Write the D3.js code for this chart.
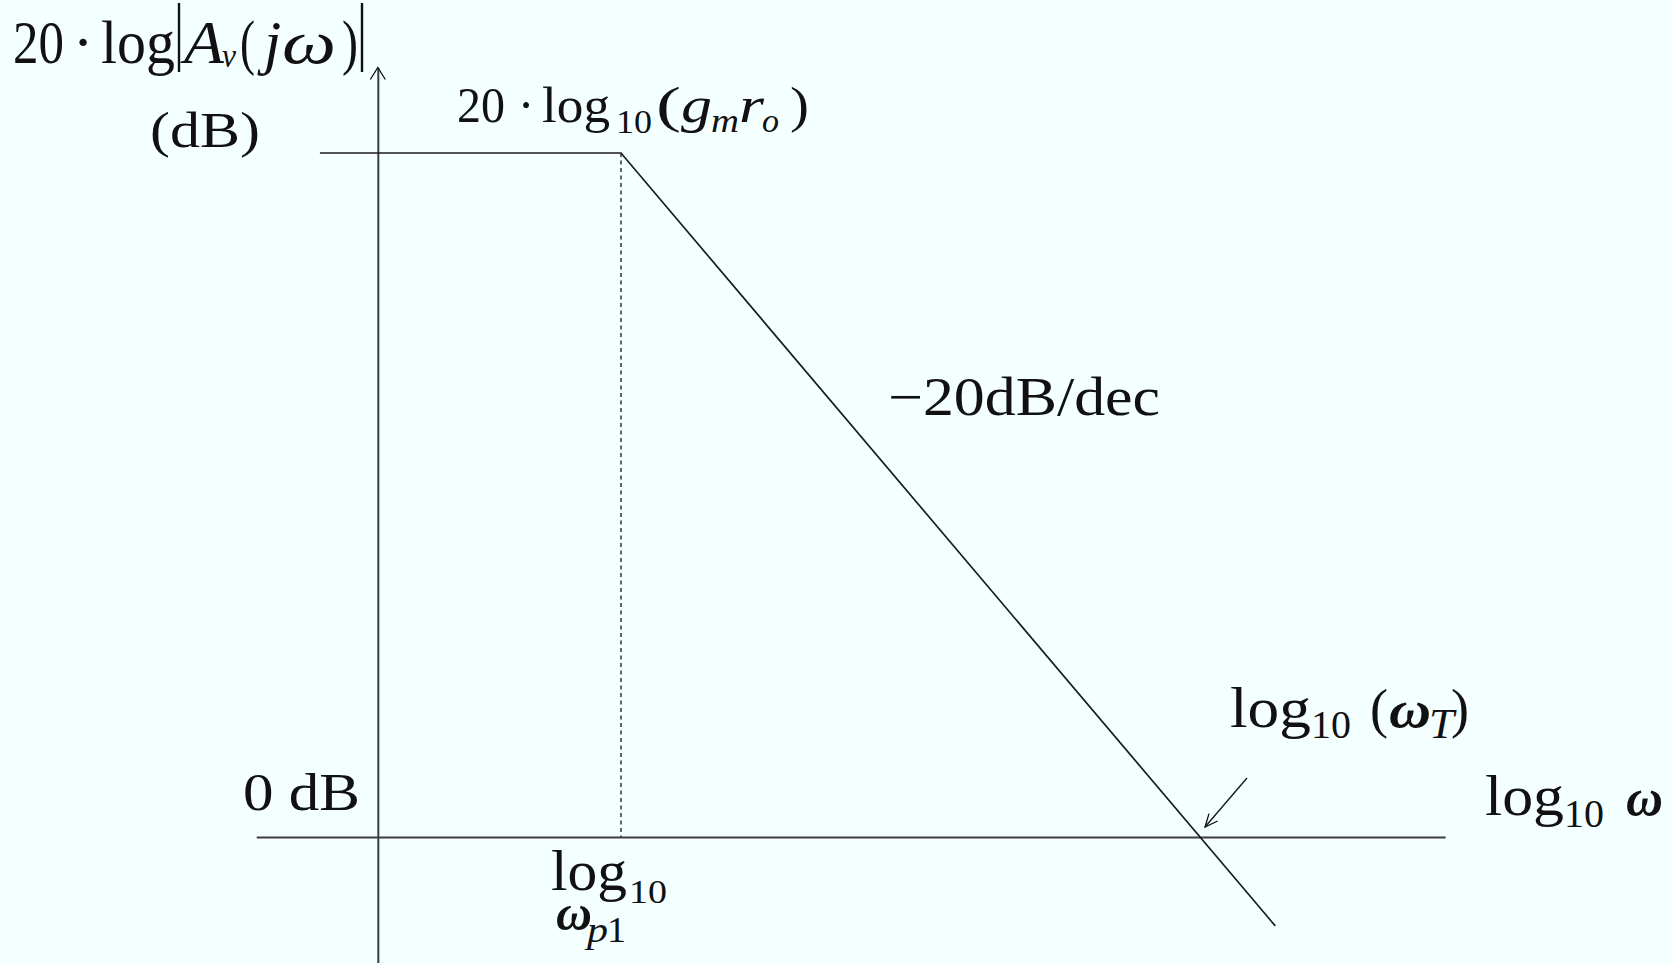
<!DOCTYPE html>
<html>
<head>
<meta charset="utf-8">
<script src="https://cdn.jsdelivr.net/npm/d3@7/dist/d3.min.js"></script>
<style>
  html, body { margin: 0; padding: 0; background: #f4ffff; }
  svg { display: block; }
  text { font-family: "Liberation Serif", "Times New Roman", serif; fill: #111; }
</style>
</head>
<body>
<svg id="chart" width="1671" height="965"></svg>
<script>
// Asymptotic Bode magnitude of a single-pole amplifier
// gain = 20·log10(gm·ro) = 60 dB, pole at log10 ωp1 = 2, unity gain at log10 ωT = 5
const gainDb = 60;
const poleLogW = 2;
const unityLogW = 5;
const responseLogW = [0.44, 2, 5.39];
const responseDb = [60, 60, -7.8];
const xAxisLogW = [0.11, 6.27];
const yAxisDb = [-11, 67.5];
const yAxisAtLogW = 0.74;

const svg = d3.select("#chart");
const W = 1671, H = 965;
svg.append("rect").attr("width", W).attr("height", H).attr("fill", "#f4ffff");

const x = d3.scaleLinear().domain([poleLogW, unityLogW]).range([621, 1200]);
const y = d3.scaleLinear().domain([0, gainDb]).range([837, 153]);

const g = svg.append("g");

// axes (no ticks, only the domain line)
const xAxisScale = d3.scaleLinear().domain(xAxisLogW).range(xAxisLogW.map(x));
g.append("g")
  .attr("transform", `translate(0,${y(0)})`)
  .call(d3.axisBottom(xAxisScale).tickValues([]).tickSizeOuter(0))
  .select(".domain").attr("stroke", "#3c3c3c").attr("stroke-width", 2);

const yAxisScale = d3.scaleLinear().domain(yAxisDb).range(yAxisDb.map(y));
g.append("g")
  .attr("transform", `translate(${x(yAxisAtLogW)},0)`)
  .call(d3.axisLeft(yAxisScale).tickValues([]).tickSizeOuter(0))
  .select(".domain").attr("stroke", "#3c3c3c").attr("stroke-width", 2);

// open arrowhead on the vertical axis
const ax = x(yAxisAtLogW), ay = y(yAxisDb[1]);
g.append("path")
  .attr("d", `M${ax - 7.5},${ay + 12}L${ax},${ay}L${ax + 7.5},${ay + 12}`)
  .attr("fill", "none").attr("stroke", "#111").attr("stroke-width", 1.3);

// dashed marker at the pole frequency
g.append("line")
  .attr("x1", x(poleLogW)).attr("x2", x(poleLogW))
  .attr("y1", y(gainDb)).attr("y2", y(0))
  .attr("stroke", "#333").attr("stroke-width", 1.5).attr("stroke-dasharray", "4,3.5");

// magnitude asymptotes
const pts = responseLogW.map((w, i) => [w, responseDb[i]]);
g.append("path")
  .datum(pts)
  .attr("d", d3.line().x(d => x(d[0])).y(d => y(d[1])))
  .attr("fill", "none").attr("stroke", "#1c1c1c").attr("stroke-width", 1.7);

// pointer to the unity-gain crossing
const cx = x(unityLogW), cy = y(0);
const p0 = [cx + 47, cy - 59], p1 = [cx + 5, cy - 10];
g.append("line")
  .attr("x1", p0[0]).attr("y1", p0[1]).attr("x2", p1[0]).attr("y2", p1[1])
  .attr("stroke", "#111").attr("stroke-width", 1.3);
{
  const ang = Math.atan2(p1[1] - p0[1], p1[0] - p0[0]);
  const len = 14, spread = 0.42;
  const a1 = [p1[0] - len * Math.cos(ang - spread), p1[1] - len * Math.sin(ang - spread)];
  const a2 = [p1[0] - len * Math.cos(ang + spread), p1[1] - len * Math.sin(ang + spread)];
  g.append("path")
    .attr("d", `M${a1[0]},${a1[1]}L${p1[0]},${p1[1]}L${a2[0]},${a2[1]}`)
    .attr("fill", "none").attr("stroke", "#111").attr("stroke-width", 1.3);
}

// text helper: each piece placed at its own baseline
function t(str, px, py, size, opts = {}) {
  const el = svg.append("text")
    .attr("x", px).attr("y", py)
    .attr("font-size", size)
    .text(str);
  if (opts.italic) el.attr("font-style", "italic");
  if (opts.bold) el.attr("font-weight", "bold");
  if (opts.anchor) el.attr("text-anchor", opts.anchor);
  if (opts.len) el.attr("textLength", opts.len).attr("lengthAdjust", "spacingAndGlyphs");
  return el;
}

// vertical axis title: 20·log|Av(jω)| (dB)
t("20", 13, 63, 62, { len: 51 });
t("·", 83, 63, 62, { anchor: "middle" });
t("log", 101, 63, 62, { len: 74 });
svg.append("line").attr("x1", 179).attr("x2", 179).attr("y1", 3).attr("y2", 72)
  .attr("stroke", "#111").attr("stroke-width", 2.4);
t("A", 184, 63, 62, { italic: true, len: 40 });
t("v", 222, 67, 34, { italic: true, len: 14 });
t("(", 240, 63, 62, { len: 15 });
t("j", 264, 63, 62, { italic: true });
t("ω", 282, 63, 62, { italic: true, len: 54 });
t(")", 342, 63, 62, { len: 16 });
svg.append("line").attr("x1", 362).attr("x2", 362).attr("y1", 3).attr("y2", 72)
  .attr("stroke", "#111").attr("stroke-width", 2.4);
t("(dB)", 150, 147, 50, { len: 110 });

// mid-band gain label
t("20", 457, 122, 50, { len: 48 });
t("·", 526, 122, 50, { anchor: "middle" });
t("log", 542, 122, 50, { len: 68 });
t("10", 616, 133, 34, { len: 36 });
t("(", 656, 122, 50, { len: 25 });
t("g", 681, 122, 50, { italic: true, len: 31 });
t("m", 711, 132, 34, { italic: true, len: 28 });
t("r", 739, 122, 50, { italic: true, len: 25 });
t("o", 762, 132, 34, { italic: true, len: 17 });
t(")", 790, 122, 50, { len: 19 });

// slope label
t("\u221220dB/dec", 888, 415, 54, { len: 272 });

// 0 dB reference
t("0 dB", 243, 810, 52, { len: 117 });

// pole frequency label
t("log", 551, 890, 56, { len: 76 });
t("10", 629, 903, 34, { len: 38 });
t("ω", 556, 930, 50, { italic: true, bold: true, len: 36 });
t("p", 587, 942, 36, { italic: true, len: 21 });
t("1", 607, 942, 36, { len: 19 });

// unity-gain frequency label
t("log", 1230, 727, 57, { len: 81 });
t("10", 1311, 738, 41, { len: 40 });
t("(", 1370, 727, 54, { len: 18 });
t("ω", 1389, 727, 52, { italic: true, bold: true, len: 42 });
t("T", 1429, 738, 42, { italic: true, len: 25 });
t(")", 1451, 727, 54, { len: 18 });

// horizontal axis title
t("log", 1485, 815, 57, { len: 79 });
t("10", 1564, 827, 41, { len: 40 });
t("ω", 1626, 815, 52, { italic: true, bold: true, len: 37 });
</script>
</body>
</html>
